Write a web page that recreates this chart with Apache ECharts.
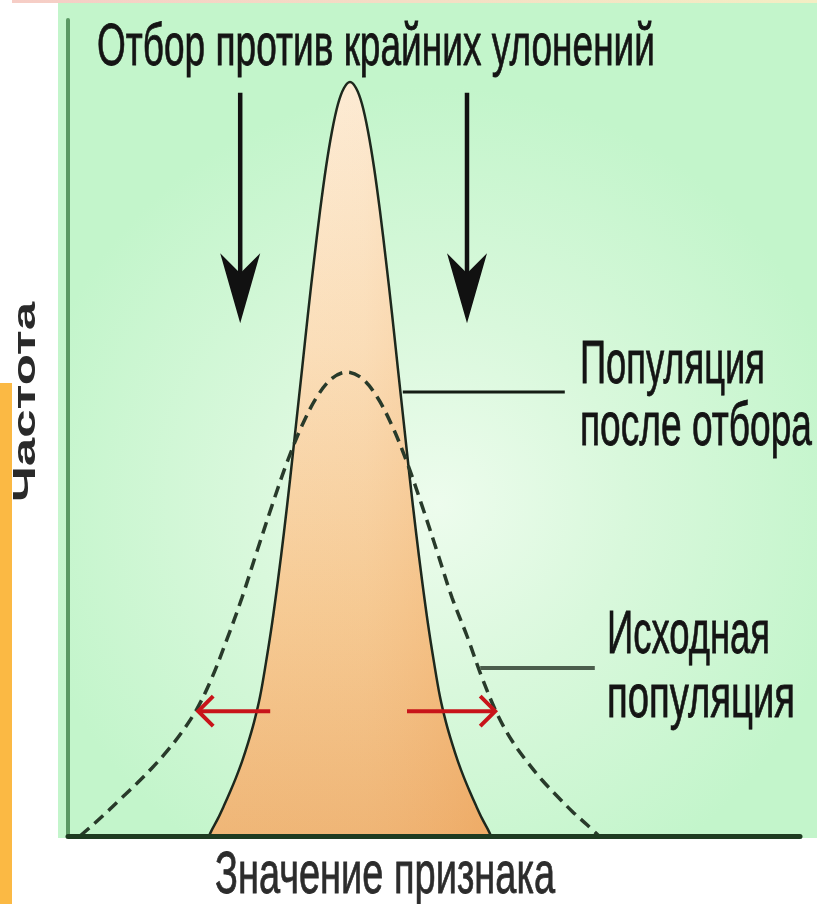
<!DOCTYPE html>
<html>
<head>
<meta charset="utf-8">
<script src="https://cdn.jsdelivr.net/npm/echarts@6/dist/echarts.min.js"></script>
<style>
  html, body { margin: 0; padding: 0; background: #ffffff; }
  #chart { width: 817px; height: 904px; }
</style>
</head>
<body>
<div id="chart"></div>
<script>
// Axis ranges (arbitrary units: trait value on x, frequency on y)
const xRange = [0, 122];
const yRange = [0, 102];

// Population after stabilising selection (solid curve)
const afterX = [23.5, 24, 25, 26, 27, 28, 29, 30, 31, 32, 33, 34, 35, 36, 37, 38, 39, 40, 41, 42, 43, 44, 45, 46, 47,
                48, 49, 50, 51, 52, 53, 54, 55, 56, 57, 58, 59, 60, 61, 62, 63, 64, 65, 66, 67, 68, 69, 70, 70.5];
const afterY = [0, 0.8, 2.2, 3.8, 5.5, 7.3, 9.3, 11.6, 14.2, 17.4, 21.7, 26.5, 32.0, 38.0, 44.5, 51.4, 58.3, 65.3, 71.9, 78.1, 83.6, 88.1, 91.5, 93.5, 94.25,
                93.5, 91.5, 88.1, 83.6, 78.1, 71.9, 65.3, 58.3, 51.4, 44.5, 38.0, 32.0, 26.5, 21.7, 17.4, 14.2, 11.6, 9.3, 7.3, 5.5, 3.8, 2.2, 0.8, 0];

// Original population (dashed curve)
const originX = [2.0, 4.0, 6.5, 9.0, 11.5, 14.0, 16.5, 19.0, 21.5, 24.0, 26.5, 29.0, 31.5, 34.0, 36.5, 39.0, 41.5, 44.0, 46.5,
                 49.0, 51.5, 54.0, 56.5, 59.0, 61.5, 64.0, 66.5, 69.0, 71.5, 74.0, 76.5, 79.0, 81.5, 84.0, 86.5, 88.5];
const originY = [0, 1.3, 3.0, 4.8, 6.6, 8.5, 10.6, 13.0, 15.9, 19.8, 24.6, 29.8, 35.6, 41.3, 46.7, 51.3, 54.9, 57.2, 58.0,
                 57.2, 54.9, 51.3, 46.7, 41.3, 35.6, 29.8, 25.0, 19.8, 15.3, 11.9, 9.3, 7.0, 5.0, 3.1, 1.4, 0];

// Annotation anchors in data units
const downArrowsX = [28.7, 66.5];          // selection arrows
const downArrowTopY = 92.9;
const downArrowTipY = 64.1;
const spreadArrowY = 15.6;                 // red arrows: [from, to]
const spreadLeft = [33.7, 21.7];
const spreadRight = [56.5, 71.2];
const leaderAfter = { y: 55.5, x: [55.8, 82.8] };
const leaderOrigin = { y: 21.0, x: [68.7, 87.8] };

// Texts
const titleText = 'Отбор против крайних улонений';
const yName = 'Частота';
const xName = 'Значение признака';
const afterLabel = ['Популяция', 'после отбора'];
const originLabel = ['Исходная', 'популяция'];

const toPairs = (xs, ys) => xs.map((x, i) => [x, ys[i]]);

const chart = echarts.init(document.getElementById('chart'), null, { renderer: 'canvas' });

chart.setOption({
  animation: false,
  backgroundColor: '#ffffff',
  grid: { left: 68, right: 17, top: 20, bottom: 68, containLabel: false },
  xAxis: {
    type: 'value', min: xRange[0], max: xRange[1], z: 5,
    axisLine: { show: true, lineStyle: { color: '#1e3b21', width: 5 } },
    axisTick: { show: false }, axisLabel: { show: false }, splitLine: { show: false }
  },
  yAxis: {
    type: 'value', min: yRange[0], max: yRange[1], z: 5,
    axisLine: { show: true, lineStyle: { color: '#5b9964', width: 4 } },
    axisTick: { show: false }, axisLabel: { show: false }, splitLine: { show: false }
  },
  series: [
    {
      name: 'after', type: 'line', data: toPairs(afterX, afterY),
      smooth: 0.35, symbol: 'none', z: 2,
      lineStyle: { color: '#1d281d', width: 2.5 },
      areaStyle: {
        opacity: 1,
        color: new echarts.graphic.LinearGradient(0, 0, 0, 1, [
          { offset: 0, color: '#fdeed9' },
          { offset: 0.35, color: '#fbe0bc' },
          { offset: 0.7, color: '#f6cb95' },
          { offset: 1, color: '#efb677' }
        ])
      }
    },
    {
      name: 'afterShade', type: 'line', data: toPairs(afterX, afterY),
      smooth: 0.35, symbol: 'none', z: 2,
      lineStyle: { width: 0, opacity: 0 },
      areaStyle: {
        opacity: 1,
        color: new echarts.graphic.LinearGradient(0, 0, 1, 0, [
          { offset: 0, color: 'rgba(240,170,100,0)' },
          { offset: 0.55, color: 'rgba(240,165,95,0.05)' },
          { offset: 1, color: 'rgba(236,150,70,0.35)' }
        ])
      }
    },
    {
      name: 'origin', type: 'line', data: toPairs(originX, originY),
      smooth: 0.35, symbol: 'none', z: 3,
      lineStyle: { color: '#283a2a', width: 3.5, type: [12, 7] }
    }
  ]
});

// Pixel helpers
const px = (x, y) => chart.convertToPixel({ gridIndex: 0 }, [x, y]);
const ctx = document.createElement('canvas').getContext('2d');
function textWidth(text, font) { ctx.font = font; return ctx.measureText(text).width; }

const sans = '"Liberation Sans", Arial, sans-serif';
// Text squeezed horizontally to a given width; baseline position given
function label(text, left, baseline, width, size, color, opts) {
  opts = opts || {};
  const weight = opts.weight || 'normal';
  const font = weight + ' ' + size + 'px ' + sans;
  const sx = width / textWidth(text, font);
  const el = {
    type: 'text', z: 100, silent: true,
    x: left, y: baseline - 0.35 * size,
    scaleX: sx, scaleY: 1,
    style: {
      text: text, x: 0, y: 0, font: font, fill: color,
      stroke: color, lineWidth: opts.rotate ? 0 : 0.8,
      align: 'left', verticalAlign: 'middle', textAlign: 'left', textVerticalAlign: 'middle'
    }
  };
  if (opts.rotate) {
    // reading upward: baseline runs along x = left, start at bottom
    el.rotation = Math.PI / 2;
    el.x = left - 0.35 * size;
    el.y = baseline;
  }
  return el;
}

function downArrow(xd) {
  const top = px(xd, downArrowTopY);
  const tip = px(xd, downArrowTipY);
  const x = top[0];
  return [
    { type: 'line', z: 100, silent: true,
      shape: { x1: x, y1: top[1], x2: x, y2: tip[1] - 40 },
      style: { stroke: '#111111', lineWidth: 4.5 } },
    { type: 'polygon', z: 100, silent: true,
      shape: { points: [[x, tip[1]], [x - 20, tip[1] - 70], [x, tip[1] - 50], [x + 20, tip[1] - 70]] },
      style: { fill: '#111111' } }
  ];
}

function redArrow(fromX, toX) {
  const a = px(fromX, spreadArrowY);
  const b = px(toX, spreadArrowY);
  const dir = b[0] > a[0] ? 1 : -1;
  return [
    { type: 'line', z: 100, silent: true,
      shape: { x1: a[0], y1: a[1], x2: b[0] - dir * 2, y2: b[1] },
      style: { stroke: '#c8141a', lineWidth: 4 } },
    { type: 'polyline', z: 100, silent: true,
      shape: { points: [[b[0] - dir * 15, b[1] - 15], [b[0], b[1]], [b[0] - dir * 15, b[1] + 15]] },
      style: { stroke: '#c8141a', lineWidth: 4, fill: null } }
  ];
}

function leader(l, color, width) {
  const a = px(l.x[0], l.y), b = px(l.x[1], l.y);
  return { type: 'line', z: 100, silent: true,
    shape: { x1: a[0], y1: a[1], x2: b[0], y2: b[1] },
    style: { stroke: color, lineWidth: width } };
}

const origin = px(0, 0);
const graphics = [
  // page backdrop layers
  { type: 'rect', z: -10, silent: true, shape: { x: 58, y: 3, width: 759, height: origin[1] - 1 },
    style: { fill: new echarts.graphic.RadialGradient(0.5, 0.6, 0.55, [
      { offset: 0, color: '#edfced' },
      { offset: 0.45, color: '#d9f8dc' },
      { offset: 1, color: '#c3f5cb' }
    ]) } },
  { type: 'rect', z: -9, silent: true, shape: { x: 12, y: 0, width: 805, height: 3 },
    style: { fill: new echarts.graphic.LinearGradient(0, 0, 1, 0, [
      { offset: 0, color: '#f6cdc6' }, { offset: 1, color: '#f4eec4' }
    ]) } },
  { type: 'rect', z: -9, silent: true, shape: { x: 0, y: 383, width: 12, height: 521 },
    style: { fill: '#fbb944' } },

  label(titleText, 97, 69, 558, 60, '#141414'),
  label(afterLabel[0], 580, 388, 185, 62, '#141414'),
  label(afterLabel[1], 580, 450, 232, 62, '#141414'),
  label(originLabel[0], 607, 658, 163, 62, '#141414'),
  label(originLabel[1], 607, 722, 188, 62, '#141414'),
  label(xName, 215, 897, 340, 60, '#2c2c2c'),
  label(yName, 37, 502, 200, 31, '#2a2a2a', { weight: 'bold', rotate: true }),

  leader(leaderAfter, '#151d15', 3),
  leader(leaderOrigin, '#4b5d4c', 4)
].concat(downArrow(downArrowsX[0]), downArrow(downArrowsX[1]),
         redArrow(spreadLeft[0], spreadLeft[1]), redArrow(spreadRight[0], spreadRight[1]));

chart.setOption({ graphic: { elements: graphics } });
</script>
</body>
</html>
